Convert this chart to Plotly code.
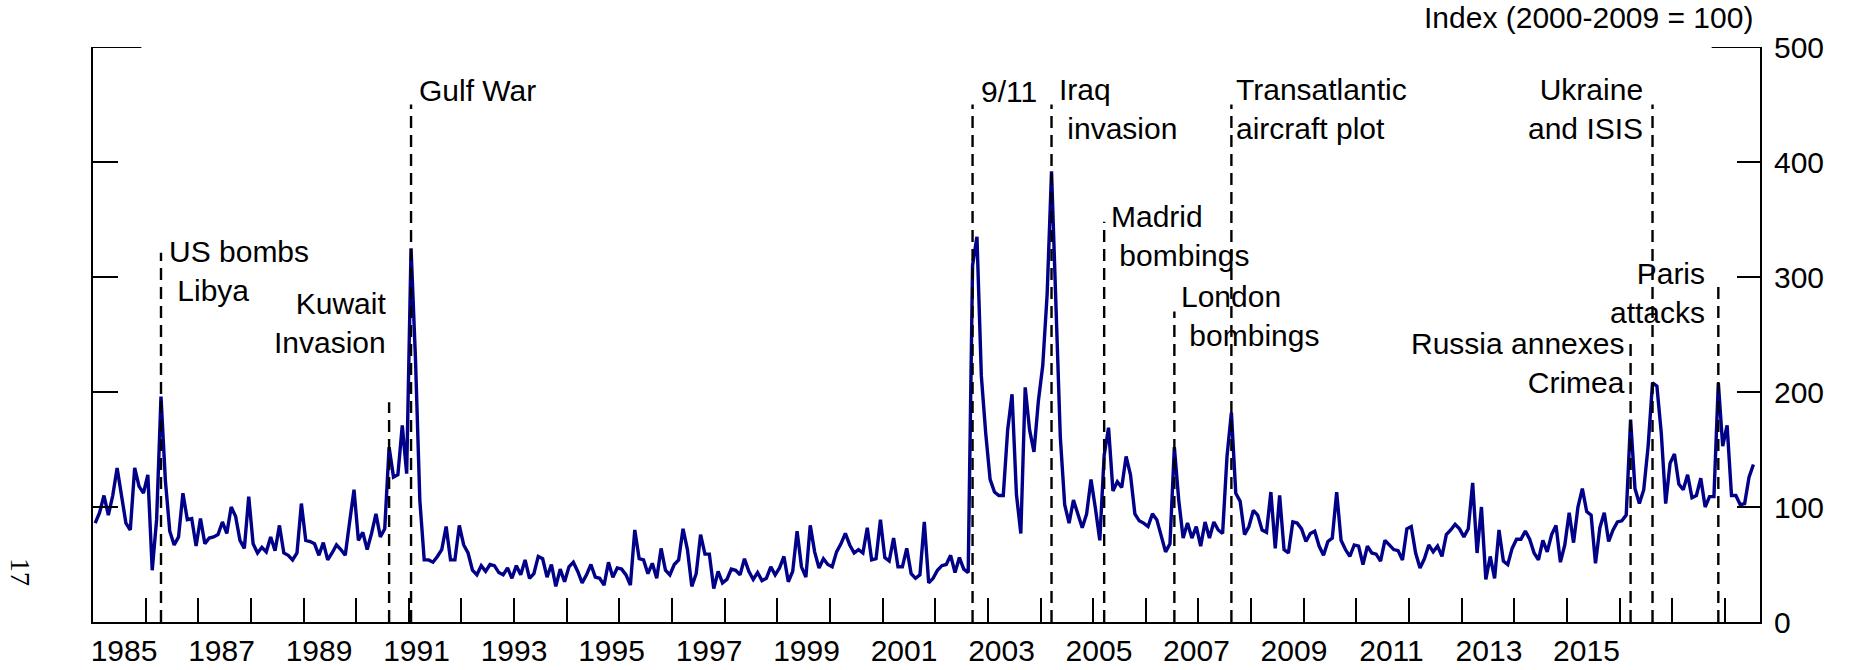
import plotly.graph_objects as go

# ---------------- data (monthly index, Jan 1985 onward) ----------------
start_year = 1985
gpr = [
    86, 95, 110, 93, 110, 134, 110, 86, 80, 134, 118, 112,      # 1985
    128, 45, 89, 196, 123, 79, 67, 74, 112, 89, 90, 66,         # 1986
    90, 68, 73, 74, 76, 87, 77, 100, 92, 71, 64, 109,           # 1987
    68, 60, 65, 61, 74, 62, 84, 60, 58, 54, 60, 103,            # 1988
    71, 70, 68, 58, 69, 54, 60, 67, 63, 58, 87, 115,            # 1989
    71, 78, 63, 77, 94, 74, 81, 152, 126, 128, 171, 129,        # 1990
    325, 230, 106, 54, 54, 52, 57, 63, 83, 54, 54, 84,          # 1991
    67, 60, 45, 41, 49, 44, 50, 49, 43, 41, 47, 38,             # 1992
    49, 41, 54, 38, 42, 57, 55, 39, 50, 31, 46, 35,             # 1993
    48, 52, 44, 34, 41, 50, 39, 38, 32, 52, 39, 47,             # 1994
    46, 41, 32, 80, 55, 54, 42, 51, 38, 64, 45, 41,             # 1995
    50, 54, 81, 63, 31, 42, 76, 59, 59, 29, 44, 34,             # 1996
    37, 46, 45, 41, 55, 44, 37, 43, 36, 38, 48, 41,             # 1997
    47, 57, 35, 44, 79, 48, 39, 84, 61, 47, 55, 50,             # 1998
    48, 61, 68, 77, 67, 60, 63, 60, 82, 54, 55, 89,             # 1999
    56, 53, 73, 48, 48, 64, 42, 38, 41, 87, 34, 38,             # 2000
    45, 49, 50, 58, 43, 56, 46, 43, 310, 335, 214, 164,         # 2001
    124, 113, 110, 110, 167, 198, 111, 77, 204, 167, 148, 192,  # 2002
    223, 285, 392, 285, 161, 102, 86, 106, 94, 82, 94, 124,     # 2003
    99, 71, 145, 169, 114, 122, 117, 144, 128, 94, 88, 86,      # 2004
    83, 94, 89, 74, 61, 68, 152, 106, 73, 86, 73, 83,           # 2005
    66, 87, 73, 87, 80, 77, 144, 182, 112, 105, 76, 83,         # 2006
    97, 93, 80, 78, 113, 64, 110, 63, 60, 87, 86, 81,           # 2007
    70, 77, 79, 66, 58, 70, 73, 113, 71, 63, 57, 67,            # 2008
    66, 50, 66, 60, 59, 53, 71, 67, 63, 62, 54, 81,             # 2009
    83, 60, 47, 55, 67, 61, 66, 57, 76, 80, 85, 81,             # 2010
    74, 81, 121, 60, 100, 37, 57, 38, 80, 53, 50, 64,           # 2011
    72, 72, 79, 72, 60, 54, 71, 61, 76, 84, 52, 67,             # 2012
    95, 69, 100, 116, 96, 93, 51, 82, 95, 70, 80, 87,           # 2013
    88, 93, 176, 116, 103, 115, 153, 208, 205, 164, 103, 138,   # 2014
    146, 120, 115, 128, 108, 110, 125, 100, 109, 109, 208, 153, # 2015
    171, 110, 110, 102, 103, 126, 137,                          # 2016
]

event_labels = ["US bombs<br>\u00a0Libya", "Kuwait<br>Invasion", "Gulf War", "9/11",
                "Iraq<br>\u00a0invasion", "Madrid<br>\u00a0bombings", "London<br>\u00a0bombings",
                "Transatlantic<br>aircraft plot", "Russia annexes<br>Crimea",
                "Ukraine<br>and ISIS", "Paris<br>attacks"]
event_years = [1986, 1990, 1991, 2001, 2003, 2004, 2005, 2006, 2014, 2014, 2015]
event_months = [4, 8, 1, 9, 3, 3, 7, 8, 3, 8, 11]

year_labels = list(range(1985, 2016, 2))
y_ticks = [0, 100, 200, 300, 400, 500]

# ---------------- layout helpers (positions / styles) ----------------
# (dashed-line top, text centre, xanchor, xshift in px)
event_style = [
    (321, 305, "left", 6),
    (191, 260, "right", -1),
    (450, 462, "left", 6),
    (450, 461, "left", 6),
    (450, 446, "left", 5),
    (348, 336, "left", 5),
    (270, 266, "left", 5),
    (450, 446, "left", 3),
    (243, 225, "right", -4),
    (450, 446, "right", -8),
    (296, 286, "right", -11),
]

x = [start_year + (i + 0.5) / 12 for i in range(len(gpr))]
ev_x = [y + (m - 0.5) / 12 for y, m in zip(event_years, event_months)]
# tick labels in the original are spaced slightly tighter than the year ticks
label_pos = [1985.59 + (yr - 1985) * 0.926 for yr in year_labels]

FONT = "Arial, 'Liberation Sans', sans-serif"
FS = 30

fig = go.Figure()
fig.add_trace(go.Scatter(x=x, y=gpr, mode="lines",
                         line=dict(color="#000088", width=3.4), showlegend=False,
                         hoverinfo="skip"))
fig.add_trace(go.Scatter(x=[x[0]], y=[gpr[0]], yaxis="y2", mode="lines",
                         showlegend=False, hoverinfo="skip", opacity=0))

shapes = []
annotations = []
for lab, ex, (top, ty, xa, xs) in zip(event_labels, ev_x, event_style):
    shapes.append(dict(type="line", xref="x", yref="y", x0=ex, x1=ex, y0=0, y1=top,
                       line=dict(color="black", width=2.4, dash="12px,7px")))
    annotations.append(dict(x=ex, y=ty, xref="x", yref="y", text=lab, showarrow=False,
                            xanchor=xa, yanchor="middle", xshift=xs,
                            align=xa, font=dict(family=FONT, size=FS, color="black")))

# long top marks at 500 on both sides
shapes.append(dict(type="line", xref="paper", yref="y", x0=0, x1=0.029, y0=500, y1=500,
                   line=dict(color="black", width=2)))
shapes.append(dict(type="line", xref="paper", yref="y", x0=0.971, x1=1, y0=500, y1=500,
                   line=dict(color="black", width=2)))

annotations.append(dict(x=1, y=1.052, xref="paper", yref="paper",
                        text="Index (2000-2009 = 100)", showarrow=False,
                        xanchor="right", yanchor="middle", xshift=-5,
                        font=dict(family=FONT, size=FS, color="black")))
annotations.append(dict(x=-0.0432, y=0.059, xref="paper", yref="paper", text="17",
                        showarrow=False, textangle=90, xanchor="center", yanchor="bottom",
                        font=dict(family="'Liberation Serif', 'Times New Roman', serif",
                                  size=28, color="black")))

fig.update_layout(
    width=1850, height=670,
    margin=dict(l=93, r=90, t=47, b=48, autoexpand=False),
    paper_bgcolor="white", plot_bgcolor="white",
    shapes=shapes, annotations=annotations,
    xaxis=dict(range=[1985, 2016 + 8 / 12], showgrid=False, zeroline=False,
               automargin=False,
               showline=True, linecolor="black", linewidth=2,
               tickmode="array", tickvals=label_pos, ticktext=[str(v) for v in year_labels],
               ticks="", ticklabelstandoff=1,
               tickfont=dict(family=FONT, size=FS, color="black"),
               minor=dict(tickmode="array", tickvals=list(range(1986, 2017)),
                          ticks="inside", ticklen=24, tickwidth=2, tickcolor="black")),
    yaxis=dict(range=[0, 500], side="right", showgrid=False, zeroline=False,
               automargin=False,
               showline=True, linecolor="black", linewidth=2,
               tickmode="array", tickvals=y_ticks, ticks="inside", ticklen=23,
               tickwidth=2, tickcolor="black", ticklabelstandoff=6,
               tickfont=dict(family=FONT, size=FS, color="black")),
    yaxis2=dict(range=[0, 500], overlaying="y", side="left", showgrid=False,
                automargin=False,
                zeroline=False, showline=True, linecolor="black", linewidth=2,
                tickmode="array", tickvals=y_ticks[1:-1], ticks="inside", ticklen=25,
                tickwidth=2, tickcolor="black", showticklabels=False),
)

fig.write_html("out.html", config={"displayModeBar": False},
               post_script="document.body.style.margin='0';"
                           "document.body.style.overflow='hidden';")
